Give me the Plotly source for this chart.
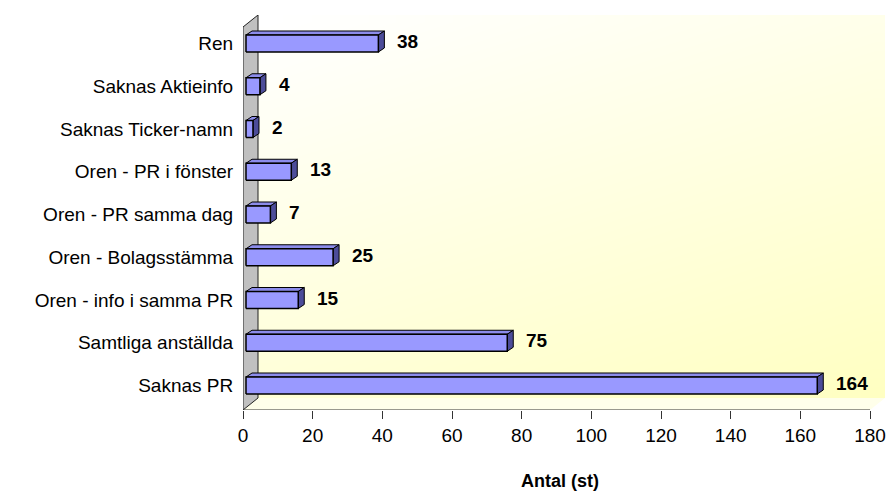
import numpy as np
import plotly.graph_objects as go

# Categories listed bottom to top, with their counts
categories = [
    "Saknas PR",
    "Samtliga anställda",
    "Oren - info i samma PR",
    "Oren - Bolagsstämma",
    "Oren - PR samma dag",
    "Oren - PR i fönster",
    "Saknas Ticker-namn",
    "Saknas Aktieinfo",
    "Ren",
]
counts = [164, 75, 15, 25, 7, 13, 2, 4, 38]
x_ticks = [0, 20, 40, 60, 80, 100, 120, 140, 160, 180]

# ---- geometry (x in data units, y in pixels above the floor front edge) ----
W, H = 890, 492
M_L, M_R, M_T, M_B = 243, 5, 15, 82
PX = 627 / 180.0                      # pixels per count unit
plot_w = W - M_L - M_R
plot_h = H - M_T - M_B
x_max = plot_w / PX

DEPTH_X = 15 / PX                     # wall/floor depth offset
DEPTH_Y = 12
BAR_BASE = 3 / PX                     # bars sit a little behind the front plane
BAR_H = 17
BAR_DX = 6 / PX
BAR_DY = 4
ROW0, ROW_STEP = 24.5, 42.75
centers = [ROW0 + i * ROW_STEP for i in range(len(categories))]

FONT = "Liberation Sans, Arial, sans-serif"

fig = go.Figure()

# back wall with a soft diagonal white-to-yellow gradient
gx = np.linspace(DEPTH_X, x_max, 31)
gy = np.linspace(DEPTH_Y, plot_h, 31)
cx = (gx[:-1] + gx[1:]) / 2
cy = (gy[:-1] + gy[1:]) / 2
XX, YY = np.meshgrid((cx - cx.min()) / (cx.max() - cx.min()),
                     1 - (cy - cy.min()) / (cy.max() - cy.min()))
fig.add_trace(go.Heatmap(
    x=gx, y=gy, z=0.35 * XX + 0.65 * YY, zsmooth="best",
    colorscale=[[0, "#FFFFFF"], [1, "#FFFFC2"]], showscale=False,
    hoverinfo="skip",
))

def poly(xs, ys, fill, line="#000000", lw=1):
    fig.add_trace(go.Scatter(
        x=list(xs) + [xs[0]], y=list(ys) + [ys[0]], mode="lines",
        fill="toself", fillcolor=fill, line=dict(color=line, width=lw),
        hoverinfo="skip", showlegend=False,
    ))

# floor
poly([0, 180, x_max, DEPTH_X], [0, 0, DEPTH_Y, DEPTH_Y], "#FFFFEA", line="rgba(0,0,0,0)", lw=0)
# grey side wall
poly([0, DEPTH_X, DEPTH_X, 0], [0, DEPTH_Y, plot_h, plot_h - DEPTH_Y], "#C0C0C0", line="#222222", lw=1)

# 3-D bars: front, top and side faces
for c, v in zip(centers, counts):
    x0, x1 = BAR_BASE, BAR_BASE + v
    y0, y1 = c - BAR_H / 2, c + BAR_H / 2
    poly([x0, x1, x1 + BAR_DX, x0 + BAR_DX], [y1, y1, y1 + BAR_DY, y1 + BAR_DY], "#8C8CEB")
    poly([x1, x1 + BAR_DX, x1 + BAR_DX, x1], [y0, y0 + BAR_DY, y1 + BAR_DY, y1], "#4C4C99")
    poly([x0, x1, x1, x0], [y0, y0, y1, y1], "#9999FF", lw=1.5)

# value labels
for c, v in zip(centers, counts):
    fig.add_annotation(
        x=BAR_BASE + v, y=c + 2, xref="x", yref="y", text=f"<b>{v}</b>",
        showarrow=False, xanchor="left", xshift=17,
        font=dict(family=FONT, size=19, color="#000000"),
    )

# x axis title, placed below the tick labels
fig.add_annotation(
    x=(560 - M_L) / plot_w, y=-71 / plot_h, xref="paper", yref="paper",
    text="<b>Antal (st)</b>", showarrow=False, xanchor="center", yanchor="middle",
    font=dict(family=FONT, size=18, color="#000000"),
)

# x axis base line
fig.add_shape(type="line", x0=0, x1=180, y0=0, y1=0, xref="x", yref="y",
              line=dict(color="#333333", width=1))

fig.update_layout(
    width=W, height=H,
    margin=dict(l=M_L, r=M_R, t=M_T, b=M_B),
    paper_bgcolor="#FFFFFF", plot_bgcolor="#FFFFFF",
    showlegend=False,
    font=dict(family=FONT, size=19, color="#000000"),
    xaxis=dict(
        range=[0, x_max], tickvals=x_ticks, ticktext=[str(t) for t in x_ticks],
        ticks="outside", ticklen=8, tickcolor="#333333", showgrid=False,
        zeroline=False, showline=False, tickfont=dict(size=19),
        fixedrange=True,
    ),
    yaxis=dict(
        range=[0, plot_h], tickvals=centers, ticktext=categories,
        ticks="outside", ticklen=5, tickcolor="rgba(0,0,0,0)", showgrid=False,
        zeroline=False, showline=False, tickfont=dict(size=19),
        fixedrange=True,
    ),
)

fig.write_html("out.html")
